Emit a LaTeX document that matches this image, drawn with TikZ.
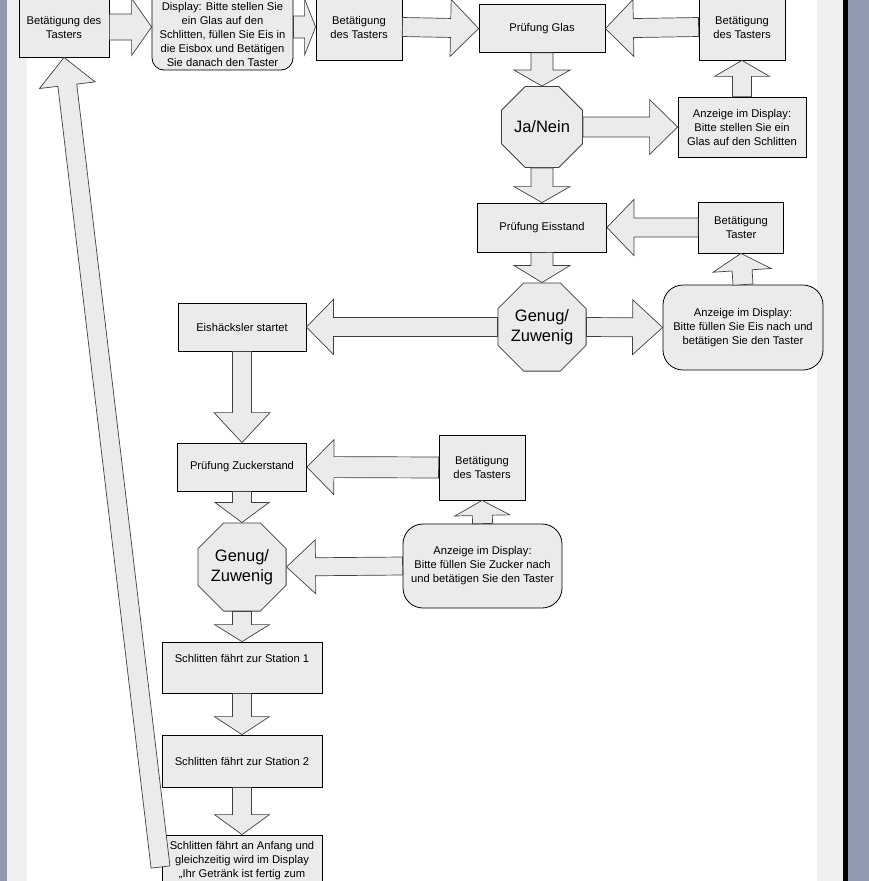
\documentclass[tikz,border=0pt]{standalone}
\usepackage{fontspec}
\setmainfont{Liberation Sans}
\usetikzlibrary{calc,shapes.geometric}
\definecolor{boxgray}{HTML}{EBEBEB}
\definecolor{pagegray}{HTML}{F0F0F0}
\definecolor{frameblue}{HTML}{8F99B0}
\tikzset{main box/.style={draw,fill=boxgray,line width=0.8pt,inner sep=0pt,align=center,font=\fontsize{11.2bp}{14bp}\selectfont},
	round box/.style={main box,rounded corners=20bp},
	check node/.style={draw=black!75,fill=boxgray,line width=0.8pt,regular polygon,regular polygon sides=8,minimum size=87.7bp,inner sep=0pt,align=center,font=\fontsize{16.5bp}{20bp}\selectfont},
	block arrow/.style={draw=black!75,fill=boxgray,line width=0.7pt},
}
\newcommand{\blockarrow}[5]{%
	\coordinate (bas) at (#1);
	\coordinate (bae) at (#2);
	\coordinate (bah) at ($(bae)!#5!(bas)$);
	\draw[block arrow] ($(bas)!#3!90:(bae)$) -- ($(bah)!#3!90:(bae)$) -- ($(bah)!#4!90:(bae)$) -- (bae)
	-- ($(bah)!#4!-90:(bae)$) -- ($(bah)!#3!-90:(bae)$) -- ($(bas)!#3!-90:(bae)$) -- cycle;
}

\begin{document}
\begin{tikzpicture}[x=1bp,y=-1bp]
	\useasboundingbox (0,0) rectangle (869,881);
	\fill[frameblue] (0,0) rectangle (7,881);
	\fill[pagegray] (7,0) rectangle (27,881);
	\fill[white] (27,0) rectangle (817,881);
	\fill[pagegray] (817,0) rectangle (843,881);
	\fill[black] (843,0) rectangle (848,881);
	\fill[frameblue] (848,0) rectangle (869,881);
	
	\node[main box,minimum width=90bp,minimum height=60bp] (taster1) at (64,27) {Betätigung des\\Tasters};
	\node[main box,rounded corners=12bp,minimum width=141bp,minimum height=86bp] (anzeige1) at (222.5,27) {\strut\\Display: Bitte stellen Sie\\ein Glas auf den\\Schlitten, füllen Sie Eis in\\die Eisbox und Betätigen\\Sie danach den Taster};
	\node[main box,minimum width=86bp,minimum height=66bp] (taster2) at (359,27) {Betätigung\\des Tasters};
	\node[main box,minimum width=126bp,minimum height=48bp] (glas) at (542,28.5) {Prüfung Glas};
	\node[main box,minimum width=86bp,minimum height=66bp] (taster3) at (742,27) {Betätigung\\des Tasters};
	\node[main box,minimum width=128bp,minimum height=60bp] (anzeige2) at (742,127) {Anzeige im Display:\\Bitte stellen Sie ein\\Glas auf den Schlitten};
	\node[check node] (janein) at (542,127) {Ja/Nein};
	\node[main box,minimum width=129bp,minimum height=49bp] (eis) at (542,227.5) {Prüfung Eisstand};
	\node[main box,minimum width=85bp,minimum height=51bp] (taster4) at (741,227.5) {Betätigung\\Taster};
	\node[round box,minimum width=160bp,minimum height=85bp] (anzeige3) at (743,327.5) {Anzeige im Display:\\Bitte füllen Sie Eis nach und\\betätigen Sie den Taster};
	\node[check node] (genug1) at (542,327) {Genug/\\Zuwenig};
	\node[main box,minimum width=128bp,minimum height=48bp] (haecksler) at (242,327) {Eishäcksler startet};
	\node[main box,minimum width=129bp,minimum height=48bp] (zucker) at (242,467) {Prüfung Zuckerstand};
	\node[main box,minimum width=86bp,minimum height=65bp] (taster5) at (482,467.5) {Betätigung\\des Tasters};
	\node[round box,minimum width=159bp,minimum height=84bp] (anzeige4) at (482.5,566) {Anzeige im Display:\\Bitte füllen Sie Zucker nach\\und betätigen Sie den Taster};
	\node[check node] (genug2) at (242,567) {Genug/\\Zuwenig};
	\node[main box,minimum width=160bp,minimum height=51bp] (station1) at (242,667.5) {Schlitten fährt zur Station 1\\\strut};
	\node[main box,minimum width=160bp,minimum height=52bp] (station2) at (242,761) {Schlitten fährt zur Station 2};
	\node[main box,minimum width=160bp,minimum height=52bp] (anfang) at (242,861) {Schlitten fährt an Anfang und\\gleichzeitig wird im Display\\„Ihr Getränk ist fertig zum};
	\coordinate (rueck) at (160.5,867);
	
	\blockarrow{taster1.east}{anzeige1.west}{13bp}{28.5bp}{20bp}
	\blockarrow{anzeige1.east}{taster2.west}{11bp}{28bp}{11bp}
	\blockarrow{taster2.east}{glas.west}{9.5bp}{28.5bp}{28bp}
	\blockarrow{taster3.west}{glas.east}{9.5bp}{28.5bp}{28bp}
	\blockarrow{anzeige2.north}{taster3.south}{9.5bp}{27.5bp}{16bp}
	\blockarrow{glas.south}{janein.north}{11bp}{28bp}{16bp}
	\blockarrow{janein.east}{anzeige2.west}{10bp}{27.5bp}{28bp}
	\blockarrow{janein.south}{eis.north}{11bp}{28bp}{16bp}
	\blockarrow{taster4.west}{eis.east}{9.5bp}{28bp}{27bp}
	\blockarrow{anzeige3.north}{taster4.south}{10bp}{29bp}{17bp}
	\blockarrow{eis.south}{genug1.north}{11bp}{28bp}{17bp}
	\blockarrow{genug1.east}{anzeige3.west}{9.5bp}{27.5bp}{30bp}
	\blockarrow{genug1.west}{haecksler.east}{9.5bp}{27.5bp}{27bp}
	\blockarrow{haecksler.south}{zucker.north}{9.5bp}{28bp}{30bp}
	\blockarrow{taster5.west}{zucker.east}{10.5bp}{27.5bp}{27bp}
	\blockarrow{anzeige4.north}{taster5.south}{10bp}{27.5bp}{15bp}
	\blockarrow{zucker.south}{genug2.north}{9.5bp}{27bp}{20bp}
	\blockarrow{anzeige4.west}{genug2.east}{9bp}{27bp}{29bp}
	\blockarrow{genug2.south}{station1.north}{9.5bp}{27.5bp}{17bp}
	\blockarrow{station1.south}{station2.north}{9.5bp}{27.5bp}{18bp}
	\blockarrow{station2.south}{anfang.north}{9.5bp}{27.5bp}{20bp}
	\blockarrow{rueck}{taster1.south}{9.5bp}{28bp}{28bp}
\end{tikzpicture}
\end{document}
